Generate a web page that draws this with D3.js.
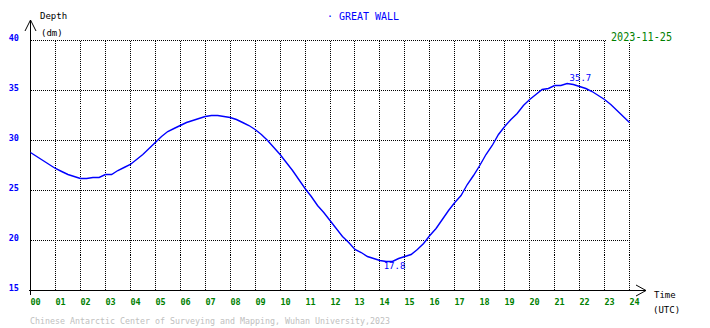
<!DOCTYPE html>
<html><head><meta charset="utf-8">
<script src="https://cdn.jsdelivr.net/npm/d3@7"></script>
<style>body{margin:0;background:#fff}svg{display:block}</style>
</head><body>
<svg id="c" width="710" height="328"></svg>
<script>
const hours = d3.range(0, 24.01, 0.25);
const depth = [28.8,28.4,28.0,27.6,27.2,26.9,26.6,26.4,26.2,26.2,26.3,26.3,26.6,26.6,27.0,27.3,
27.6,28.1,28.6,29.2,29.8,30.4,30.9,31.2,31.5,31.8,32.0,32.2,32.4,32.5,32.5,32.4,
32.3,32.1,31.8,31.5,31.1,30.6,30.0,29.3,28.6,27.8,27.0,26.1,25.2,24.4,23.5,22.8,
22.0,21.2,20.4,19.8,19.1,18.8,18.4,18.2,18.0,17.9,17.9,18.2,18.4,18.6,19.1,19.7,
20.5,21.2,22.1,23.0,23.8,24.5,25.6,26.5,27.5,28.6,29.5,30.6,31.4,32.1,32.7,33.5,
34.1,34.6,35.1,35.2,35.5,35.5,35.7,35.6,35.4,35.2,34.9,34.5,34.1,33.6,33.0,32.4,31.8];
const xTicks = d3.range(0, 25, 1);
const xTickLabels = xTicks.map(d => String(d).padStart(2, "0"));
const yTicks = [15, 20, 25, 30, 35, 40];
const annotations = [{h: 21.6, v: 35.7, label: "35.7", dy: -2.5}, {h: 14.15, v: 17.8, label: "17.8", dy: 6}];

const svg = d3.select("#c");
const x = d3.scaleLinear().domain([0, 24]).range([30.5, 629.5]);
const y = d3.scaleLinear().domain([15, 40]).range([290.5, 40.5]);
const px = v => Math.floor(x(v)) + 0.5;
const font = "'DejaVu Sans Mono', monospace";

// grid
const g = svg.append("g").attr("stroke", "#000").attr("stroke-dasharray", "1,1").attr("shape-rendering", "crispEdges");
xTicks.slice(1).forEach(t => g.append("line").attr("x1", px(t)).attr("x2", px(t)).attr("y1", y(40)).attr("y2", y(15)));
yTicks.slice(1).forEach(t => g.append("line").attr("x1", x(0)).attr("x2", x(24)).attr("y1", y(t)).attr("y2", y(t)));

// axes
const ax = svg.append("g").attr("stroke", "#000").attr("fill", "none").attr("stroke-width", 1);
ax.append("line").attr("x1", 30.5).attr("x2", 30.5).attr("y1", 20).attr("y2", 295).attr("shape-rendering", "crispEdges");
ax.append("path").attr("d", "M25,31L30.5,20L36,31");
ax.append("line").attr("x1", 29).attr("x2", 646).attr("y1", 290.5).attr("y2", 290.5).attr("shape-rendering", "crispEdges");
ax.append("path").attr("d", "M636,285L646,290.5L636,296");

// y labels
yTicks.forEach(t => svg.append("text").attr("x", 19).attr("y", y(t)).attr("text-anchor", "end")
  .attr("font-family", font).attr("font-size", 8.5).attr("font-weight", "bold").attr("fill", "#0000ff").text(t));
// x labels
xTicks.forEach((t, i) => svg.append("text").attr("x", px(t)).attr("y", 305).attr("font-family", font)
  .attr("font-size", 8.5).attr("font-weight", "bold").attr("fill", "#008000").text(xTickLabels[i]));

const txt = (s, xx, yy, opt = {}) => svg.append("text").attr("x", xx).attr("y", yy).attr("font-family", font)
  .attr("font-size", opt.size || 9).attr("fill", opt.fill || "#000").text(s);
txt("Depth", 40, 19);
txt("(dm)", 41, 36);
txt("Time", 654, 298);
txt("(UTC)", 653, 313);
txt("· GREAT WALL", 327, 20, {size: 11, fill: "#0000ff"}).attr("textLength", 72).attr("lengthAdjust", "spacingAndGlyphs");
svg.append("rect").attr("x", 606).attr("y", 30).attr("width", 68).attr("height", 12).attr("fill", "#fff");
txt("2023-11-25", 611, 41, {size: 12, fill: "#008000"}).attr("textLength", 61).attr("lengthAdjust", "spacingAndGlyphs");
txt("Chinese Antarctic Center of Surveying and Mapping, Wuhan University,2023", 30, 324, {size: 9, fill: "#c0c0c0"})
  .attr("textLength", 360).attr("lengthAdjust", "spacingAndGlyphs");

// line
const line = d3.line().x((d, i) => x(hours[i])).y(d => y(d));
svg.append("path").datum(depth).attr("d", line).attr("fill", "none").attr("stroke", "#0000ff").attr("stroke-width", 1.4);

annotations.forEach(a => svg.append("text").attr("x", x(a.h)).attr("y", y(a.v) + a.dy)
  .attr("font-family", font).attr("font-size", 9).attr("fill", "#0000ff").text(a.label));
</script>
</body></html>
